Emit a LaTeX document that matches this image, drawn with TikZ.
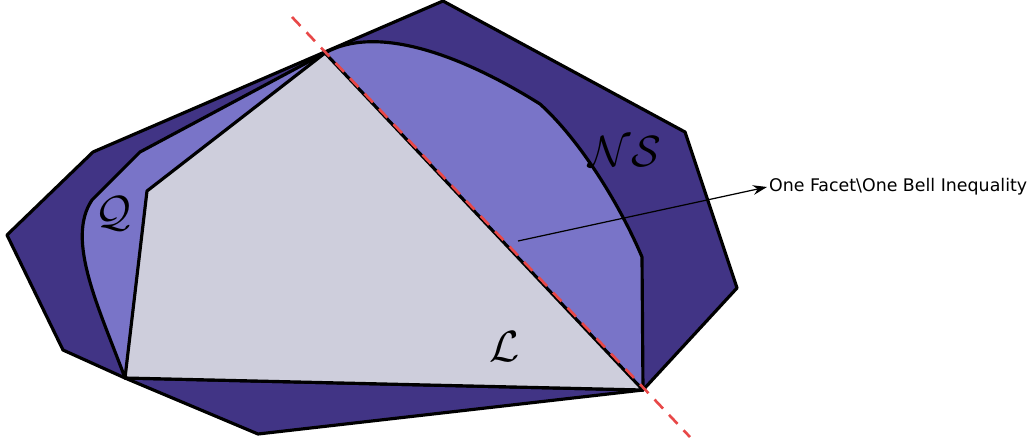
\documentclass[tikz,border=0pt]{standalone}
\usepackage{fontspec}
\newfontfamily\notefont{DejaVu Sans}
\usetikzlibrary{arrows.meta}
\definecolor{nsfill}{RGB}{65,52,133}
\definecolor{qfill}{RGB}{121,116,200}
\definecolor{lfill}{RGB}{206,206,220}
\definecolor{facetred}{RGB}{232,72,72}

\begin{document}
\begin{tikzpicture}[x=0.02cm, y=-0.02cm, line join=round, >={Stealth[length=8pt, width=5.5pt]},
  poly/.style={draw=black, line width=1.8pt},
  setname/.style={font=\fontsize{26}{28}\selectfont, inner sep=0pt},
  facet/.style={draw=facetred, line width=1.5pt, dash pattern=on 7pt off 5pt}]
  \useasboundingbox (0,0) rectangle (1032,444);
  % corners shared by the three sets
  \coordinate (top) at (325,53);
  \coordinate (low) at (125,378);
  \coordinate (rgt) at (643,390);
  % no-signalling polytope
  \draw[poly, fill=nsfill] (443,1) -- (685,132) -- (737,288) -- (rgt) -- (258,434) -- (low)
    -- (63,350) -- (7,235) -- (93,152) -- cycle;
  % quantum set
  \draw[poly, fill=qfill] (low) .. controls (100,310) and (65,240) .. (92,200) -- (140,152) -- (top)
    .. controls (380,22) and (470,60) .. (540,104) .. controls (580,140) and (620,205) .. (642,257)
    -- (rgt) -- cycle;
  % local polytope
  \draw[poly, fill=lfill] (top) -- (rgt) -- (low) -- (147,191) -- cycle;
  % facet line
  \coordinate (f1) at (292,17);
  \coordinate (f2) at (690,437);
  \draw[facet] (f1) -- (f2);
  \node[setname] (qlab) at (113,214) {$\mathcal{Q}$};
  \node[setname] (nslab) at (625,152) {$\mathcal{NS}$};
  \node[setname] (llab) at (505,347) {$\mathcal{L}$};
  \coordinate (facetpt) at (518,241);
  \node[font=\notefont\fontsize{9.9}{12}\selectfont, anchor=west, inner sep=1pt] (facetlab) at (767,187) {One Facet\textbackslash One Bell Inequality};
  \draw[->, line width=0.7pt] (facetpt) -- (facetlab.west);
\end{tikzpicture}
\end{document}
